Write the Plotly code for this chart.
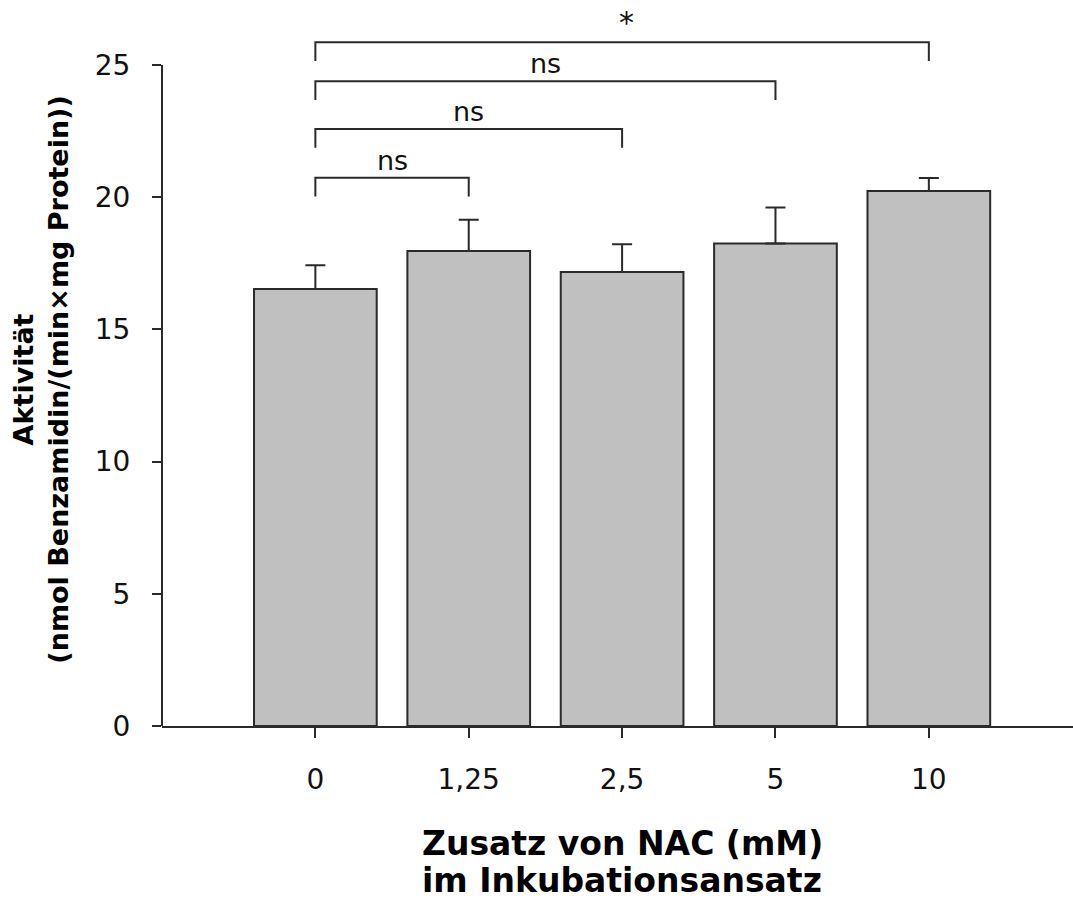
import plotly.graph_objects as go

categories = ["0", "1,25", "2,5", "5", "10"]
means = [16.53, 17.97, 17.17, 18.25, 20.24]
errors = [0.90, 1.18, 1.05, 1.36, 0.49]

# significance brackets: (from index, to index, height, label)
bracket_from = [0, 0, 0, 0]
bracket_to = [1, 2, 3, 4]
bracket_y = [20.74, 22.58, 24.39, 25.86]
bracket_labels = ["ns", "ns", "ns", "*"]
bracket_drop = 0.71

yticks = [0, 5, 10, 15, 20, 25]

xpos = list(range(len(categories)))

fig = go.Figure()
fig.add_trace(go.Bar(
    x=xpos, y=means, width=0.8,
    marker=dict(color="#c0c0c0", line=dict(color="#2a2a2a", width=2)),
    error_y=dict(type="data", array=errors, arrayminus=[0] * len(errors),
                 symmetric=False, color="#2a2a2a", thickness=2, width=10),
    showlegend=False,
))

shapes = []
# y axis line from 0 to 25
shapes.append(dict(type="line", xref="paper", yref="y", x0=0, x1=0, y0=0, y1=yticks[-1],
                   line=dict(color="#2a2a2a", width=2)))
annotations = []
for a, b, h, lab in zip(bracket_from, bracket_to, bracket_y, bracket_labels):
    shapes.append(dict(type="path", xref="x", yref="y",
                       path=f"M {a},{h - bracket_drop} L {a},{h} L {b},{h} L {b},{h - bracket_drop}",
                       line=dict(color="#2a2a2a", width=2)))
    if lab == "*":
        annotations.append(dict(x=(a + b) / 2 + 0.03, y=h, xref="x", yref="y", text=lab,
                                showarrow=False, yanchor="bottom", yshift=0,
                                font=dict(family="DejaVu Sans", size=30, color="#111")))
    else:
        annotations.append(dict(x=(a + b) / 2, y=h, xref="x", yref="y", text=lab,
                                showarrow=False, yanchor="bottom", yshift=0,
                                font=dict(family="DejaVu Sans", size=27, color="#111")))

xtitle_lines = ["Zusatz von NAC (mM)", "im Inkubationsansatz"]
for line, shift in zip(xtitle_lines, [-117, -154]):
    annotations.append(dict(x=2, xref="x", y=0, yref="paper", yshift=shift, yanchor="middle",
                            text=f"<b>{line}</b>", showarrow=False,
                            font=dict(family="DejaVu Sans", size=33, color="#000")))
annotations.append(dict(x=0, xref="paper", xshift=-121, y=13.1, yref="y", textangle=-90,
                        xanchor="center", yanchor="middle",
                        text="<b>Aktivität<br>(nmol Benzamidin/(min×mg Protein))</b>",
                        showarrow=False,
                        font=dict(family="DejaVu Sans", size=27, color="#000")))

fig.update_layout(
    width=1073, height=903,
    margin=dict(l=162, r=0, t=0, b=177),
    paper_bgcolor="white", plot_bgcolor="white",
    shapes=shapes, annotations=annotations,
    bargap=0.2,
    xaxis=dict(range=[-1, 4.94], tickvals=xpos, ticktext=categories,
               showline=True, linecolor="#2a2a2a", linewidth=2,
               ticks="outside", ticklen=10, tickwidth=2, tickcolor="#2a2a2a",
               ticklabelstandoff=17,
               tickfont=dict(family="DejaVu Sans", size=28, color="#111"),
               showgrid=False, zeroline=False),
    yaxis=dict(range=[0, 27.46], tickvals=yticks,
               showline=False,
               ticks="outside", ticklen=9, tickwidth=2, tickcolor="#2a2a2a",
               ticklabelstandoff=16,
               tickfont=dict(family="DejaVu Sans", size=28, color="#111"),
               showgrid=False, zeroline=False),
)

fig.write_html("out.html", config={"displayModeBar": False},
               post_script="document.body.style.margin='0';document.body.style.overflow='hidden';")
